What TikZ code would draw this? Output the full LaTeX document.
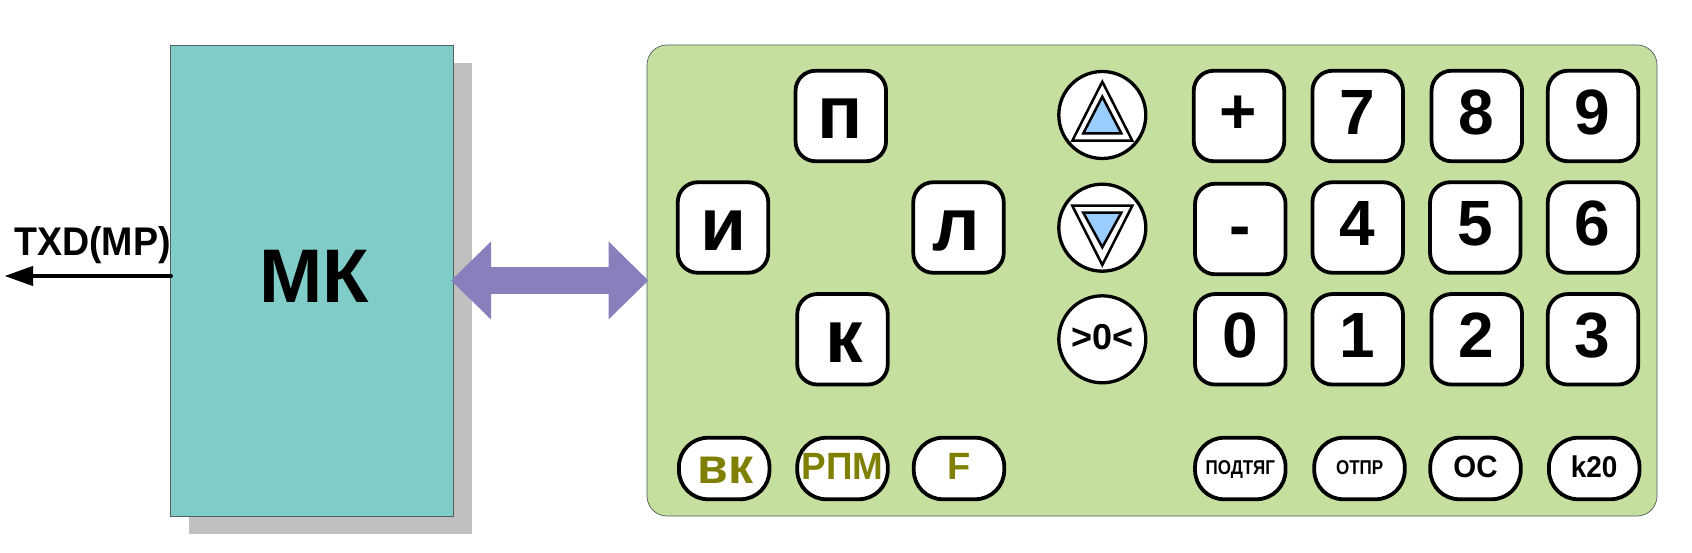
\documentclass[tikz,border=0pt]{standalone}
\usepackage{fontspec}
\setmainfont{Liberation Sans}
\usetikzlibrary{arrows.meta}
\definecolor{mkteal}{HTML}{7FCCC8}
\definecolor{shadowgray}{HTML}{C0C0C0}
\definecolor{panelgreen}{HTML}{C5DF9E}
\definecolor{busviolet}{HTML}{8880BC}
\definecolor{trianglefill}{HTML}{99CCFF}
\definecolor{edgegray}{HTML}{4F6060}
\definecolor{olivetext}{HTML}{808000}
\tikzset{
  keysq/.style={draw=black,fill=white,line width=3.8pt,rounded corners=20pt,minimum width=90.5pt,minimum height=90.5pt,inner sep=0pt,outer sep=0pt},
  keypill/.style={draw=black,fill=white,line width=3.8pt,rounded corners=29pt,minimum width=90.5pt,minimum height=61.5pt,inner sep=0pt,outer sep=0pt},
  keyround/.style={circle,draw=black,fill=white,line width=3.3pt,minimum size=87pt,inner sep=0pt,outer sep=0pt},
  lbl/.style={inner sep=0pt,outer sep=0pt,anchor=base},
  tricase/.style={draw=black,fill=white,line width=2.5pt,line join=miter},
  triinner/.style={draw=black,fill=trianglefill,line width=2.5pt,line join=miter},
  busarrow/.style={draw=busviolet,line width=27.5pt,{Triangle[length=40pt,width=75.5pt]}-{Triangle[length=40pt,width=75.5pt]},shorten <=-2.5pt,shorten >=-1.5pt},
  sigarrow/.style={draw=black,line width=4pt,-{Triangle[length=28.5pt,width=19pt]},line cap=round}
}
\newcommand\bt[1]{\fontsize{#1}{#1}\selectfont\bfseries}
% name, x, y, style, text, size, text x, baseline
\newcommand\kbtn[8]{%
  \node[#4] (#1) at (#2,#3) {};
  \node[lbl,font=\bt{#6}] (#1t) at (#7,#8) {#5};
}
\begin{document}
\begin{tikzpicture}[x=1pt,y=-1pt]
\useasboundingbox[fill=white] (0,0) rectangle (1692,553);
% MK block
\node[fill=shadowgray,minimum width=283pt,minimum height=471pt,inner sep=0pt,outer sep=0pt] (mkshadow) at (330,298.5) {};
\node[draw=edgegray,fill=mkteal,line width=0.7pt,minimum width=283pt,minimum height=471pt,inner sep=0pt,outer sep=0pt] (mk) at (312,280.5) {};
\node[lbl,font=\bt{76}] (mklabel) at (314,303) {МК};
% panel
\node[draw=edgegray,fill=panelgreen,line width=0.7pt,rounded corners=20pt,minimum width=1010pt,minimum height=471pt,inner sep=0pt,outer sep=0pt] (panel) at (1152,280.5) {};
% bus
\draw[busarrow] (mk.east) -- (panel.west);
% TXD
\node[lbl,font=\bt{40}] (txd) at (92.5,255.7) {\scalebox{.94}[1]{TXD(MP)}};
\coordinate (txdstart) at (171,276);
\coordinate (txdend) at (4.5,276);
\draw[sigarrow] (txdstart) -- (txdend);
% cross keys
\kbtn{kp}{840.8}{116}{keysq}{п}{75}{840.3}{139}
\kbtn{ki}{723}{227.5}{keysq}{и}{75}{723.3}{250.7}
\kbtn{kl}{958.5}{227.5}{keysq}{л}{75}{956.5}{250.7}
\kbtn{kk}{842.5}{339.3}{keysq}{к}{75}{844}{362.3}
% round keys
\node[keyround] (up) at (1102.3,115) {};
\node[keyround] (down) at (1102.3,227.7) {};
\kbtn{zero}{1102.3}{339.3}{keyround}{>0<}{36}{1102.3}{349.8}
\draw[tricase] (1102.3,81.7) -- (1132.3,140.7) -- (1072.3,140.7) -- cycle;
\draw[triinner] (1102.3,96.7) -- (1121.3,133.3) -- (1083.3,133.3) -- cycle;
\draw[tricase] (1102.3,265) -- (1132.3,205.7) -- (1072.3,205.7) -- cycle;
\draw[triinner] (1102.3,247.3) -- (1121.3,212.7) -- (1083.3,212.7) -- cycle;
% numeric keys
\kbtn{kplus}{1239}{116}{keysq}{+}{64}{1238.5}{134}
\kbtn{kminus}{1240.3}{229}{keysq}{-}{64}{1240.3}{248}
\kbtn{k0}{1240.3}{339.3}{keysq}{0}{64}{1239.8}{357.5}
\kbtn{k7}{1357.7}{116}{keysq}{7}{64}{1357.2}{134.5}
\kbtn{k8}{1476.8}{116}{keysq}{8}{64}{1476.2}{134.5}
\kbtn{k9}{1593}{116}{keysq}{9}{64}{1592.5}{134.5}
\kbtn{k4}{1357.7}{227.5}{keysq}{4}{64}{1357.2}{246}
\kbtn{k5}{1475.3}{227.5}{keysq}{5}{64}{1474.8}{246}
\kbtn{k6}{1593}{227.5}{keysq}{6}{64}{1592.5}{246}
\kbtn{k1}{1357.7}{339.3}{keysq}{1}{64}{1357.2}{357.5}
\kbtn{k2}{1476.8}{339.3}{keysq}{2}{64}{1476.2}{357.5}
\kbtn{k3}{1593}{339.3}{keysq}{3}{64}{1592.5}{357.5}
% bottom row
\kbtn{vk}{724.2}{468.5}{keypill}{\textcolor{olivetext}{вк}}{50}{725.5}{483.3}
\kbtn{rpm}{842.5}{468.5}{keypill}{\textcolor{olivetext}{\scalebox{.97}[1]{РПМ}}}{38}{842.5}{479.3}
\kbtn{kf}{959}{468.5}{keypill}{\textcolor{olivetext}{F}}{38}{958.7}{479.3}
\kbtn{podt}{1240.3}{468.5}{keypill}{\scalebox{.85}[1]{ПОДТЯГ}}{20}{1240.3}{474.3}
\kbtn{otpr}{1359.5}{468.5}{keypill}{\scalebox{.85}[1]{ОТПР}}{20}{1359.7}{474.3}
\kbtn{os}{1475.5}{468.5}{keypill}{\scalebox{.95}[1]{ОС}}{31}{1475.5}{477}
\kbtn{k20}{1594.2}{468.5}{keypill}{\scalebox{.93}[1]{k20}}{30}{1594.2}{477}
\end{tikzpicture}
\end{document}
